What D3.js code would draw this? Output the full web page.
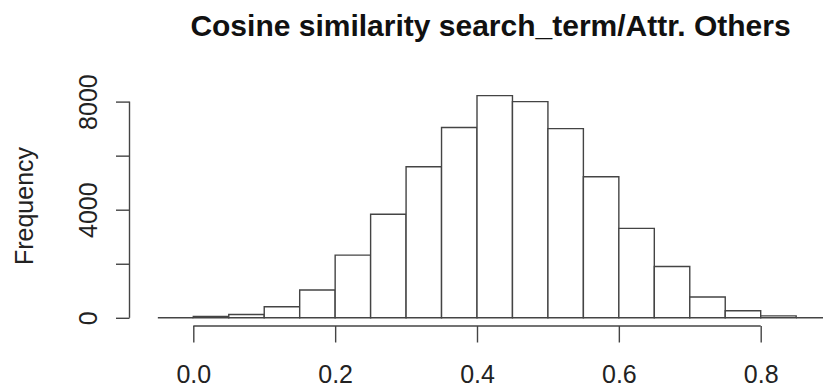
<!DOCTYPE html>
<html>
<head>
<meta charset="utf-8">
<script src="https://cdn.jsdelivr.net/npm/d3@7"></script>
<style>
  html, body { margin: 0; padding: 0; background: #fff; }
  svg { display: block; }
</style>
</head>
<body>
<svg id="chart" width="823" height="390"></svg>
<script>
// ---- data ----
const title = "Cosine similarity search_term/Attr. Others";
const xLabel = "";
const yLabel = "Frequency";
const binStarts = [-0.05, 0.00, 0.05, 0.10, 0.15, 0.20, 0.25, 0.30, 0.35, 0.40, 0.45, 0.50, 0.55, 0.60, 0.65, 0.70, 0.75, 0.80, 0.85];
const binWidth = 0.05;
const counts = [0, 50, 120, 410, 1030, 2320, 3830, 5590, 7040, 8220, 8000, 7000, 5220, 3310, 1900, 770, 260, 70, 0];
const xTicks = [0.0, 0.2, 0.4, 0.6, 0.8];
const xTickLabels = ["0.0", "0.2", "0.4", "0.6", "0.8"];
const yTicks = [0, 2000, 4000, 6000, 8000];
const yTickLabels = ["0", "", "4000", "", "8000"];

// ---- layout ----
const svg = d3.select("#chart");
const x = d3.scaleLinear().domain([0, 0.8]).range([193.3, 760.7]);
const y = d3.scaleLinear().domain([0, 8000]).range([317.8, 101.6]);
const stroke = "#444";
const font = "'Liberation Sans', Arial, Helvetica, sans-serif";

// bars
svg.append("g")
  .selectAll("path")
  .data(binStarts.map((s, i) => ({ x0: s, x1: s + binWidth, c: counts[i] })))
  .join("path")
  .attr("d", d => `M${x(d.x0)},${y(0)}V${y(d.c)}H${x(d.x1)}V${y(0)}Z`)
  .attr("fill", "#fff")
  .attr("stroke", stroke)
  .attr("stroke-width", 1.4);

// x axis
const xAxis = d3.axisBottom(x)
  .tickValues(xTicks)
  .tickFormat((d, i) => xTickLabels[i])
  .tickSize(16.5)
  .tickPadding(0);
const gx = svg.append("g").attr("transform", "translate(0,326)").call(xAxis);
gx.select(".domain").remove();
gx.selectAll(".tick line").attr("stroke", stroke).attr("stroke-width", 1.4);
gx.selectAll(".tick text")
  .attr("y", 56.5).attr("dy", null)
  .attr("fill", "#222")
  .style("font-family", font)
  .style("font-size", "25px");
gx.append("line")
  .attr("x1", x(xTicks[0])).attr("x2", x(xTicks[xTicks.length - 1]))
  .attr("y1", 0).attr("y2", 0)
  .attr("stroke", stroke).attr("stroke-width", 1.4);

// y axis
const yAxis = d3.axisLeft(y)
  .tickValues(yTicks)
  .tickFormat((d, i) => yTickLabels[i])
  .tickSize(13.5)
  .tickPadding(0);
const gy = svg.append("g").attr("transform", "translate(129.5,0)").call(yAxis);
gy.select(".domain").remove();
gy.selectAll(".tick line").attr("stroke", stroke).attr("stroke-width", 1.4);
gy.selectAll(".tick text")
  .attr("x", null).attr("dy", null)
  .attr("text-anchor", "middle")
  .attr("transform", "translate(-32.5,0) rotate(-90)")
  .attr("fill", "#222")
  .style("font-family", font)
  .style("font-size", "25px");
gy.append("line")
  .attr("x1", 0).attr("x2", 0)
  .attr("y1", y(yTicks[0])).attr("y2", y(yTicks[yTicks.length - 1]))
  .attr("stroke", stroke).attr("stroke-width", 1.4);

// y label
svg.append("text")
  .attr("transform", "translate(33,206) rotate(-90)")
  .attr("text-anchor", "middle")
  .attr("fill", "#222")
  .style("font-family", font)
  .style("font-size", "25px")
  .text(yLabel);

// title
svg.append("text")
  .attr("x", 490.5).attr("y", 36)
  .attr("text-anchor", "middle")
  .attr("fill", "#111")
  .style("font-family", font)
  .style("font-weight", "bold")
  .style("font-size", "30px")
  .text(title);
</script>
</body>
</html>
